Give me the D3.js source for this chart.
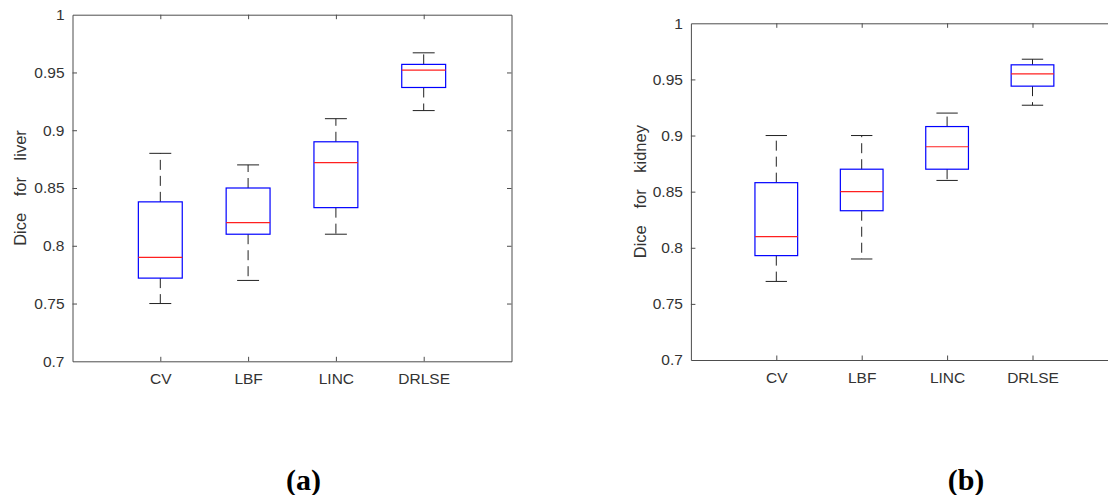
<!DOCTYPE html>
<html>
<head>
<meta charset="utf-8">
<script src="https://cdn.jsdelivr.net/npm/d3@7"></script>
<style>
  body { margin: 0; background: #fff; }
  svg { display: block; }
</style>
</head>
<body>
<div id="chart"></div>
<script>
// method names along the x axis
const methods = ["CV", "LBF", "LINC", "DRLSE"];

// liver box statistics (lower whisker, q1, median, q3, upper whisker)
const liverLower  = [0.750, 0.770, 0.810, 0.917];
const liverQ1     = [0.772, 0.810, 0.833, 0.937];
const liverMedian = [0.790, 0.820, 0.872, 0.952];
const liverQ3     = [0.838, 0.850, 0.890, 0.957];
const liverUpper  = [0.880, 0.870, 0.910, 0.967];

// kidney box statistics
const kidneyLower  = [0.770, 0.790, 0.860, 0.927];
const kidneyQ1     = [0.793, 0.833, 0.870, 0.944];
const kidneyMedian = [0.810, 0.850, 0.890, 0.955];
const kidneyQ3     = [0.858, 0.870, 0.908, 0.963];
const kidneyUpper  = [0.900, 0.900, 0.920, 0.968];

const yTicks = [0.7, 0.75, 0.8, 0.85, 0.9, 0.95, 1];
const yTickLabels = ["0.7", "0.75", "0.8", "0.85", "0.9", "0.95", "1"];

const width = 1108, height = 495;

const svg = d3.select("#chart").append("svg")
    .attr("width", width)
    .attr("height", height)
    .attr("viewBox", [0, 0, width, height]);

svg.append("rect").attr("width", width).attr("height", height).attr("fill", "#fff");

function drawPanel(opts) {
    const stats = methods.map((m, i) => ({
        name: m,
        pos: i + 1,
        lo: opts.lower[i], q1: opts.q1[i], med: opts.median[i], q3: opts.q3[i], hi: opts.upper[i]
    }));

    const x = d3.scaleLinear().domain([0, 5]).range([opts.left, opts.right]);
    const y = d3.scaleLinear().domain([0.7, 1]).range([opts.bottom, opts.top]);

    const g = svg.append("g");
    const tick = 4.5;
    const axisColor = "#4d4d4d";

    // bottom axis with labels
    const xb = g.append("g")
        .attr("transform", `translate(0,${opts.bottom})`)
        .call(d3.axisBottom(x).tickValues([1, 2, 3, 4]).tickFormat((d, i) => methods[i])
            .tickSize(-tick).tickSizeOuter(0).tickPadding(11.5));
    // top axis, ticks only
    const xt = g.append("g")
        .attr("transform", `translate(0,${opts.top})`)
        .call(d3.axisTop(x).tickValues([1, 2, 3, 4]).tickFormat("")
            .tickSize(-tick).tickSizeOuter(0));
    // left axis with labels
    const yl = g.append("g")
        .attr("transform", `translate(${opts.left},0)`)
        .call(d3.axisLeft(y).tickValues(yTicks).tickFormat((d, i) => yTickLabels[i])
            .tickSize(-tick).tickSizeOuter(0).tickPadding(8));
    // right axis, ticks only
    const yr = g.append("g")
        .attr("transform", `translate(${opts.right},0)`)
        .call(d3.axisRight(y).tickValues(yTicks).tickFormat("")
            .tickSize(-tick).tickSizeOuter(0));

    [xb, xt, yl, yr].forEach(a => {
        a.attr("color", axisColor);
        a.selectAll("text")
            .attr("fill", "#333")
            .style("font-family", "'Liberation Sans', Arial, sans-serif")
            .style("font-size", "15.5px");
    });
    // top tick marks along y=1 axis hide the "1" tick line at top corner
    yl.selectAll(".tick line").filter(d => d === 1 || d === 0.7).remove();
    yr.selectAll(".tick line").filter(d => d === 1 || d === 0.7).remove();

    // y label
    g.append("text")
        .attr("transform", `translate(${opts.labelX},${(opts.top + opts.bottom) / 2}) rotate(-90)`)
        .attr("text-anchor", "middle")
        .attr("fill", "#333")
        .style("font-family", "'Liberation Sans', Arial, sans-serif")
        .style("font-size", "16.5px")
        .style("word-spacing", "12px")
        .text(opts.ylabel);

    const boxW = 0.5, capW = 0.25;
    const box = g.append("g").selectAll("g").data(stats).join("g");

    // whiskers drawn from box edge out to the cap
    box.append("line")
        .attr("x1", d => x(d.pos)).attr("x2", d => x(d.pos))
        .attr("y1", d => y(d.q3)).attr("y2", d => y(d.hi))
        .attr("stroke", "#222").attr("stroke-dasharray", "10,6");
    box.append("line")
        .attr("x1", d => x(d.pos)).attr("x2", d => x(d.pos))
        .attr("y1", d => y(d.q1)).attr("y2", d => y(d.lo))
        .attr("stroke", "#222").attr("stroke-dasharray", "10,6");
    // caps
    box.selectAll(".cap").data(d => [d.hi, d.lo].map(v => ({ pos: d.pos, v })))
        .join("line")
        .attr("class", "cap")
        .attr("x1", d => x(d.pos - capW / 2)).attr("x2", d => x(d.pos + capW / 2))
        .attr("y1", d => y(d.v)).attr("y2", d => y(d.v))
        .attr("stroke", "#222");
    // box
    box.append("rect")
        .attr("x", d => x(d.pos - boxW / 2))
        .attr("width", d => x(d.pos + boxW / 2) - x(d.pos - boxW / 2))
        .attr("y", d => y(d.q3))
        .attr("height", d => y(d.q1) - y(d.q3))
        .attr("fill", "none")
        .attr("stroke", "#0000ff")
        .attr("stroke-width", 1.2);
    // median
    box.append("line")
        .attr("x1", d => x(d.pos - boxW / 2)).attr("x2", d => x(d.pos + boxW / 2))
        .attr("y1", d => y(d.med)).attr("y2", d => y(d.med))
        .attr("stroke", "#ff2020").attr("stroke-width", 1.2);

    // panel caption
    svg.append("text")
        .attr("x", opts.captionX)
        .attr("y", 490)
        .attr("text-anchor", "middle")
        .attr("fill", "#000")
        .style("font-family", "'Liberation Serif', 'Times New Roman', serif")
        .style("font-weight", "bold")
        .style("font-size", "30px")
        .text(opts.caption);
}

drawPanel({
    left: 72.5, right: 511.5, top: 14.7, bottom: 361.3,
    lower: liverLower, q1: liverQ1, median: liverMedian, q3: liverQ3, upper: liverUpper,
    ylabel: "Dice for liver", labelX: 25.7,
    caption: "(a)", captionX: 303.5
});

drawPanel({
    left: 690.9, right: 1117.9, top: 23.3, bottom: 360,
    lower: kidneyLower, q1: kidneyQ1, median: kidneyMedian, q3: kidneyQ3, upper: kidneyUpper,
    ylabel: "Dice for kidney", labelX: 645.5,
    caption: "(b)", captionX: 966
});
</script>
</body>
</html>
